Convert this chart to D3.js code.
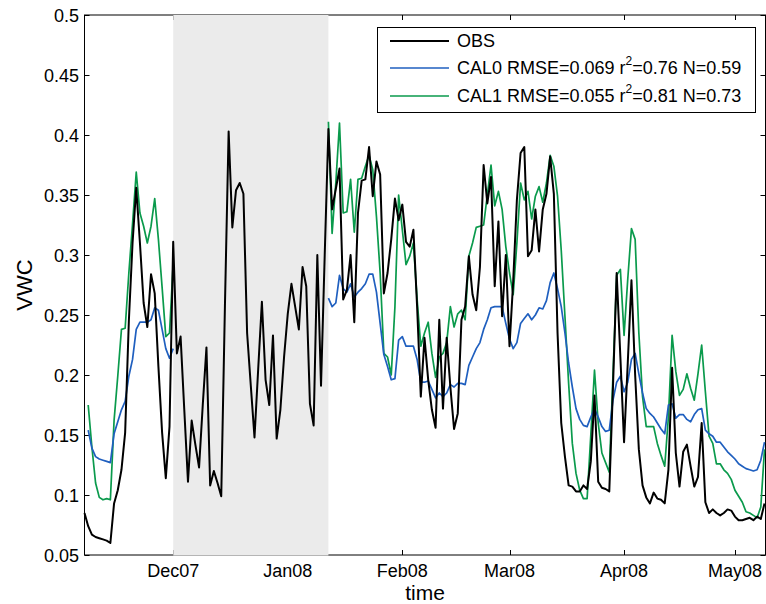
<!DOCTYPE html>
<html><head><meta charset="utf-8">
<script src="https://cdn.jsdelivr.net/npm/d3@7/dist/d3.min.js"></script>
<style>body{margin:0;background:#fff}svg{display:block}text{font-family:"Liberation Sans",Arial,sans-serif}</style>
</head><body>
<svg id="c" width="766" height="604"></svg>
<script>
const startDate = "2007-11-07";
const shadeStart = "2007-12-01", shadeEnd = "2008-01-12";
const monthTicks = ["2007-12-01","2008-01-01","2008-02-01","2008-03-01","2008-04-01","2008-05-01"];
const monthLabels = ["Dec07","Jan08","Feb08","Mar08","Apr08","May08"];
const yTicks = [0.05,0.1,0.15,0.2,0.25,0.3,0.35,0.4,0.45,0.5];
const seriesNames = ["OBS","CAL0 RMSE=0.069 r","CAL1 RMSE=0.055 r"];
const legendTail = ["", "=0.76 N=0.59", "=0.81 N=0.73"];
const colors = ["#000000","#1f5fbf","#0a9a4c"];

const obs = [0.085,0.074,0.067,0.065,0.064,0.063,0.062,0.060,0.093,0.104,
0.121,0.152,0.245,0.31,0.356,0.31,0.26,0.24,0.284,0.268,
0.207,0.152,0.114,0.157,0.311,0.218,0.232,0.171,0.111,0.162,
0.142,0.123,0.175,0.223,0.108,0.12,0.11,0.099,0.258,0.403,
0.323,0.354,0.36,0.351,0.235,0.191,0.148,0.205,0.261,0.196,
0.175,0.233,0.147,0.171,0.215,0.251,0.276,0.257,0.238,0.290,
0.274,0.176,0.158,0.30,0.191,0.30,0.405,0.338,0.355,0.372,
0.263,0.271,0.30,0.244,0.335,0.362,0.363,0.39,0.349,0.378,
0.367,0.268,0.285,0.313,0.347,0.329,0.342,0.311,0.307,0.321,
0.257,0.182,0.231,0.196,0.171,0.156,0.246,0.172,0.231,0.19,
0.155,0.168,0.246,0.257,0.299,0.267,0.254,0.290,0.375,0.343,
0.365,0.274,0.328,0.249,0.30,0.224,0.278,0.346,0.385,0.39,
0.299,0.304,0.338,0.303,0.338,0.351,0.382,0.351,0.235,0.16,
0.132,0.108,0.107,0.103,0.103,0.108,0.105,0.128,0.183,0.111,
0.106,0.105,0.103,0.19,0.285,0.215,0.144,0.21,0.279,0.20,
0.138,0.108,0.098,0.093,0.102,0.097,0.096,0.093,0.121,0.206,
0.135,0.107,0.136,0.142,0.124,0.107,0.115,0.16,0.094,0.085,
0.088,0.085,0.083,0.085,0.088,0.087,0.082,0.079,0.079,0.080,
0.081,0.079,0.082,0.080,0.093];

// CAL series: day 1..24, then gap, then day 66..184
const cal0Early = [0.154,0.139,0.132,0.130,0.129,0.128,0.127,0.151,0.161,0.171,
0.178,0.199,0.213,0.238,0.244,0.244,0.244,0.246,0.256,0.254,
0.238,0.222,0.214,0.222];
const cal0Late = [0.264,0.257,0.26,0.283,0.272,0.269,0.276,0.265,0.269,0.272,
0.276,0.284,0.284,0.269,0.243,0.217,0.207,0.196,0.197,0.229,
0.232,0.224,0.224,0.224,0.213,0.194,0.194,0.195,0.188,0.181,
0.185,0.182,0.185,0.192,0.19,0.193,0.193,0.192,0.208,0.215,
0.222,0.227,0.238,0.246,0.256,0.257,0.257,0.257,0.243,0.230,
0.222,0.227,0.243,0.247,0.251,0.246,0.25,0.256,0.255,0.262,
0.277,0.285,0.272,0.257,0.235,0.21,0.19,0.172,0.163,0.158,
0.157,0.165,0.172,0.165,0.157,0.153,0.154,0.179,0.194,0.199,
0.186,0.194,0.213,0.218,0.201,0.185,0.172,0.168,0.165,0.16,
0.155,0.151,0.175,0.176,0.164,0.167,0.167,0.163,0.161,0.167,
0.171,0.172,0.154,0.151,0.149,0.144,0.144,0.14,0.136,0.133,
0.13,0.126,0.124,0.122,0.121,0.12,0.121,0.129,0.144];
const cal1Early = [0.175,0.14,0.11,0.098,0.096,0.097,0.096,0.162,0.199,0.238,
0.239,0.285,0.326,0.369,0.335,0.324,0.31,0.324,0.347,0.313,
0.273,0.232,0.235,0.293];
const cal1Late = [0.411,0.318,0.36,0.41,0.335,0.336,0.363,0.319,0.363,0.364,
0.374,0.383,0.371,0.332,0.285,0.218,0.215,0.2,0.257,0.35,
0.321,0.292,0.299,0.31,0.263,0.224,0.235,0.244,0.218,0.198,
0.215,0.218,0.227,0.257,0.24,0.251,0.254,0.246,0.299,0.31,
0.323,0.324,0.325,0.35,0.375,0.341,0.353,0.338,0.307,0.285,
0.267,0.31,0.36,0.346,0.353,0.33,0.349,0.357,0.344,0.36,
0.383,0.374,0.349,0.304,0.249,0.193,0.143,0.118,0.104,0.097,
0.097,0.15,0.204,0.16,0.135,0.127,0.119,0.2,0.283,0.288,
0.233,0.28,0.322,0.313,0.235,0.182,0.157,0.157,0.157,0.143,
0.133,0.124,0.165,0.233,0.203,0.183,0.188,0.201,0.189,0.179,
0.201,0.225,0.186,0.149,0.143,0.126,0.126,0.121,0.118,0.113,
0.104,0.099,0.094,0.086,0.085,0.083,0.081,0.09,0.138];
const calEarlyStart = 1, calLateStart = 66;

const parse = d3.utcParse("%Y-%m-%d");
const t0 = parse(startDate);
const dayDate = i => d3.utcDay.offset(t0, i);

function buildCal(early, late){
  const arr = new Array(obs.length).fill(null);
  early.forEach((v,i)=>arr[calEarlyStart+i]=v);
  late.forEach((v,i)=>arr[calLateStart+i]=v);
  return arr;
}
const series = [obs, buildCal(cal0Early,cal0Late), buildCal(cal1Early,cal1Late)];

const L=84.5, R=765.5, T=15, B=555;
const x = d3.scaleUtc().domain([t0, dayDate(obs.length-1)]).range([L, 764.5]);
const y = d3.scaleLinear().domain([0.05,0.5]).range([B,T]);

const svg = d3.select("#c");
const FS = 18;

const g = svg.append("g");
g.append("rect").attr("x",L).attr("y",T).attr("width",R-L).attr("height",B-T)
 .attr("fill","none").attr("stroke","#000").attr("stroke-width",1);
const xt = monthTicks.map(parse);
const tl = 5;
xt.forEach(d=>{
  const px = Math.round(x(d))+0.5;
  g.append("line").attr("x1",px).attr("x2",px).attr("y1",B).attr("y2",B-tl).attr("stroke","#000");
  g.append("line").attr("x1",px).attr("x2",px).attr("y1",T).attr("y2",T+tl).attr("stroke","#000");
});
yTicks.forEach(v=>{
  const py = Math.round(y(v))+0.5;
  g.append("line").attr("x1",L).attr("x2",L+tl).attr("y1",py).attr("y2",py).attr("stroke","#000");
  g.append("line").attr("x1",R).attr("x2",R-tl).attr("y1",py).attr("y2",py).attr("stroke","#000");
  g.append("text").attr("x",L-5.5).attr("y",py).attr("dy","0.35em").attr("text-anchor","end")
   .attr("font-size",FS).text(d3.format("")(v));
});
xt.forEach((d,i)=>{
  g.append("text").attr("x",x(d)).attr("y",B+22).attr("text-anchor","middle")
   .attr("font-size",FS).text(monthLabels[i]);
});
svg.append("text").attr("x",(L+R)/2).attr("y",600).attr("text-anchor","middle")
 .attr("font-size",21).text("time");
svg.append("text").attr("transform",`translate(32,${(T+B)/2}) rotate(-90)`)
 .attr("text-anchor","middle").attr("font-size",22).text("VWC");

svg.append("rect").attr("x",x(parse(shadeStart))).attr("y",T)
 .attr("width",x(parse(shadeEnd))-x(parse(shadeStart))).attr("height",B-T+0.5)
 .attr("fill","#ebebeb");

const line = d3.line().defined(d=>d!=null).x((d,i)=>x(dayDate(i))).y(d=>y(d));
[2,1,0].forEach(k=>{
  svg.append("path").datum(series[k]).attr("d",line).attr("fill","none")
   .attr("stroke",colors[k]).attr("stroke-width",k===0?2:1.7).attr("stroke-linejoin","round");
});

const lg = svg.append("g");
lg.append("rect").attr("x",377.5).attr("y",27.5).attr("width",378).attr("height",85)
 .attr("fill","#fff").attr("stroke","#000").attr("stroke-width",1);
const rowsY = [41,68,96];
seriesNames.forEach((n,i)=>{
  lg.append("line").attr("x1",390).attr("x2",449).attr("y1",rowsY[i]).attr("y2",rowsY[i])
   .attr("stroke",colors[i]).attr("stroke-width",i===0?2:1.7);
  const t = lg.append("text").attr("x",457).attr("y",rowsY[i]).attr("dy","0.36em").attr("font-size",FS);
  t.append("tspan").text(n);
  if(i>0){
    t.append("tspan").attr("font-size",12).attr("dy","-0.75em").text("2");
    t.append("tspan").attr("dy","0.5em").attr("font-size",FS).text(legendTail[i]);
  }
});
</script>
</body></html>
